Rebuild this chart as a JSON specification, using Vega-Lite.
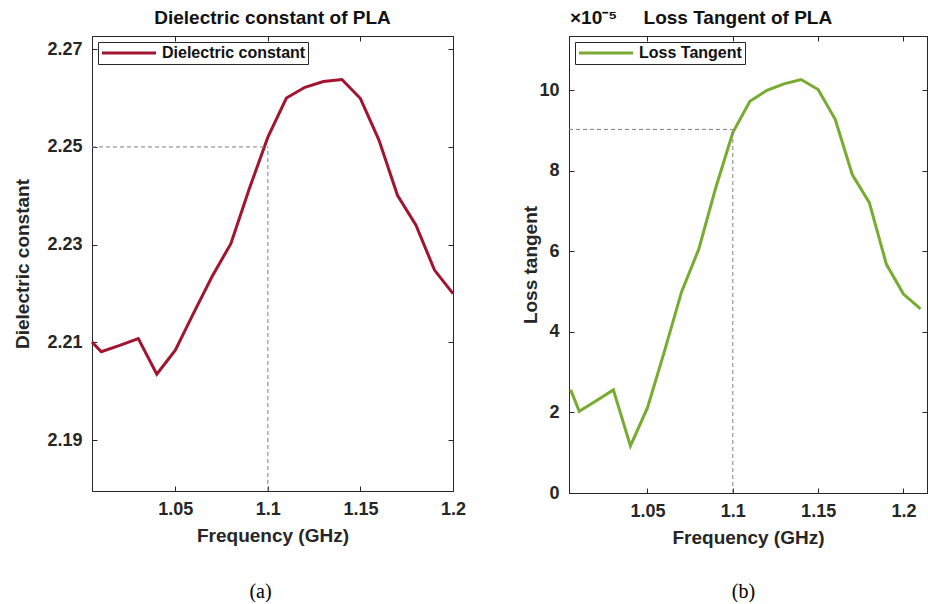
{
  "$schema": "https://vega.github.io/schema/vega-lite/v6.json",
  "padding": {"left": 13, "top": 8, "right": 0, "bottom": 0},
  "bounds": "flush",
  "spacing": 116,
  "background": "white",
  "config": {
    "view": {"stroke": "#262626", "strokeWidth": 1},
    "font": "Liberation Sans",
    "axis": {
      "labelFont": "Liberation Sans", "labelFontWeight": "bold", "labelFontSize": 18, "labelColor": "#262626",
      "titleFont": "Liberation Sans", "titleFontWeight": "bold", "titleFontSize": 19, "titleColor": "#262626",
      "domainColor": "#262626", "tickColor": "#262626", "tickSize": -5, "grid": false, "domainWidth": 1, "tickWidth": 1
    },
    "title": {"font": "Liberation Sans", "fontWeight": "bold", "fontSize": 19, "color": "#111111", "frame": "group", "offset": 8, "baseline": "alphabetic"},
    "legend": {
      "orient": "top-left", "offset": 6, "symbolType": "stroke", "symbolSize": 2916, "symbolStrokeWidth": 3,
      "clipHeight": 17, "padding": 2.5, "labelOffset": 4.5, "labelFont": "Liberation Sans", "labelFontWeight": "bold",
      "labelFontSize": 16, "labelColor": "#111111", "strokeColor": "#262626", "fillColor": "white", "cornerRadius": 0
    }
  },
  "datasets": {
    "dielectric": [
      {"freq": 1.005, "eps": 2.2101, "series": "Dielectric constant"},
      {"freq": 1.01, "eps": 2.2081, "series": "Dielectric constant"},
      {"freq": 1.02, "eps": 2.2094, "series": "Dielectric constant"},
      {"freq": 1.03, "eps": 2.2108, "series": "Dielectric constant"},
      {"freq": 1.04, "eps": 2.2035, "series": "Dielectric constant"},
      {"freq": 1.05, "eps": 2.2084, "series": "Dielectric constant"},
      {"freq": 1.06, "eps": 2.2161, "series": "Dielectric constant"},
      {"freq": 1.07, "eps": 2.2236, "series": "Dielectric constant"},
      {"freq": 1.08, "eps": 2.2302, "series": "Dielectric constant"},
      {"freq": 1.09, "eps": 2.2415, "series": "Dielectric constant"},
      {"freq": 1.1, "eps": 2.2520, "series": "Dielectric constant"},
      {"freq": 1.11, "eps": 2.2600, "series": "Dielectric constant"},
      {"freq": 1.12, "eps": 2.2622, "series": "Dielectric constant"},
      {"freq": 1.13, "eps": 2.2634, "series": "Dielectric constant"},
      {"freq": 1.14, "eps": 2.2638, "series": "Dielectric constant"},
      {"freq": 1.15, "eps": 2.2599, "series": "Dielectric constant"},
      {"freq": 1.16, "eps": 2.2514, "series": "Dielectric constant"},
      {"freq": 1.17, "eps": 2.2401, "series": "Dielectric constant"},
      {"freq": 1.18, "eps": 2.2340, "series": "Dielectric constant"},
      {"freq": 1.19, "eps": 2.2248, "series": "Dielectric constant"},
      {"freq": 1.2, "eps": 2.2200, "series": "Dielectric constant"}
    ],
    "dielectric_ref": [
      {"from_freq": 1.005, "freq": 1.1, "eps": 2.25, "floor": 2.1796}
    ],
    "loss": [
      {"freq": 1.005, "tan": 2.56e-5, "series": "Loss Tangent"},
      {"freq": 1.01, "tan": 2.03e-5, "series": "Loss Tangent"},
      {"freq": 1.02, "tan": 2.29e-5, "series": "Loss Tangent"},
      {"freq": 1.03, "tan": 2.56e-5, "series": "Loss Tangent"},
      {"freq": 1.04, "tan": 1.17e-5, "series": "Loss Tangent"},
      {"freq": 1.05, "tan": 2.12e-5, "series": "Loss Tangent"},
      {"freq": 1.06, "tan": 3.53e-5, "series": "Loss Tangent"},
      {"freq": 1.07, "tan": 5.0e-5, "series": "Loss Tangent"},
      {"freq": 1.08, "tan": 6.05e-5, "series": "Loss Tangent"},
      {"freq": 1.09, "tan": 7.58e-5, "series": "Loss Tangent"},
      {"freq": 1.1, "tan": 8.95e-5, "series": "Loss Tangent"},
      {"freq": 1.11, "tan": 9.73e-5, "series": "Loss Tangent"},
      {"freq": 1.12, "tan": 10.0e-5, "series": "Loss Tangent"},
      {"freq": 1.13, "tan": 10.16e-5, "series": "Loss Tangent"},
      {"freq": 1.14, "tan": 10.27e-5, "series": "Loss Tangent"},
      {"freq": 1.15, "tan": 10.02e-5, "series": "Loss Tangent"},
      {"freq": 1.16, "tan": 9.28e-5, "series": "Loss Tangent"},
      {"freq": 1.17, "tan": 7.91e-5, "series": "Loss Tangent"},
      {"freq": 1.18, "tan": 7.21e-5, "series": "Loss Tangent"},
      {"freq": 1.19, "tan": 5.68e-5, "series": "Loss Tangent"},
      {"freq": 1.2, "tan": 4.94e-5, "series": "Loss Tangent"},
      {"freq": 1.21, "tan": 4.57e-5, "series": "Loss Tangent"}
    ],
    "loss_ref": [
      {"from_freq": 1.004, "freq": 1.1, "tan": 9.03e-5, "floor": 0}
    ]
  },
  "resolve": {"scale": {"color": "independent"}, "legend": {"color": "independent"}},
  "hconcat": [
    {
      "width": 361,
      "height": 455,
      "title": {"text": "Dielectric constant of PLA"},
      "resolve": {"axis": {"x": "independent", "y": "independent"}},
      "layer": [
        {
          "data": {"name": "dielectric"},
          "mark": {"type": "line", "strokeWidth": 3},
          "encoding": {
            "x": {"field": "freq", "type": "quantitative",
              "scale": {"domain": [1.005, 1.2], "nice": false, "zero": false},
              "axis": {"title": "Frequency (GHz)", "values": [1.05, 1.1, 1.15, 1.2], "format": ".3~g", "labelFlush": false, "labelPadding": 14, "titlePadding": 8}},
            "y": {"field": "eps", "type": "quantitative",
              "scale": {"domain": [2.1796, 2.2727], "nice": false, "zero": false},
              "axis": {"title": "Dielectric constant", "values": [2.19, 2.21, 2.23, 2.25, 2.27], "format": ".2f", "labelPadding": 15, "titlePadding": 14}},
            "color": {"field": "series", "type": "nominal", "scale": {"range": ["#A2142F"]}, "legend": {"title": null}}
          }
        },
        {
          "data": {"name": "dielectric_ref"},
          "mark": {"type": "rule", "color": "#808080", "strokeDash": [4, 3], "strokeWidth": 1},
          "encoding": {
            "x": {"field": "from_freq", "type": "quantitative",
              "scale": {"domain": [1.005, 1.2], "nice": false, "zero": false},
              "axis": {"orient": "top", "labels": false, "title": null, "values": [1.05, 1.1, 1.15, 1.2]}},
            "x2": {"field": "freq"},
            "y": {"field": "eps", "type": "quantitative",
              "scale": {"domain": [2.1796, 2.2727], "nice": false, "zero": false},
              "axis": {"orient": "right", "labels": false, "title": null, "values": [2.19, 2.21, 2.23, 2.25, 2.27]}}
          }
        },
        {
          "data": {"name": "dielectric_ref"},
          "mark": {"type": "rule", "color": "#808080", "strokeDash": [4, 3], "strokeWidth": 1},
          "encoding": {
            "x": {"field": "freq", "type": "quantitative",
              "scale": {"domain": [1.005, 1.2], "nice": false, "zero": false},
              "axis": {"orient": "bottom", "labels": false, "ticks": false, "domain": false, "title": "(a)",
                "titleFont": "Liberation Serif", "titleFontWeight": "normal", "titleFontSize": 20, "titleColor": "#000000",
                "titleX": 168, "titleY": 100, "titleBaseline": "middle", "titleAlign": "center"}},
            "y": {"field": "floor", "type": "quantitative",
              "scale": {"domain": [2.1796, 2.2727], "nice": false, "zero": false}, "axis": null},
            "y2": {"field": "eps"}
          }
        }
      ]
    },
    {
      "width": 358,
      "height": 457,
      "title": {"text": "×10⁻⁵\u00a0\u00a0\u00a0\u00a0\u00a0Loss Tangent of PLA", "anchor": "start", "dx": 1},
      "resolve": {"axis": {"x": "independent", "y": "independent"}},
      "layer": [
        {
          "data": {"name": "loss"},
          "mark": {"type": "line", "strokeWidth": 3, "clip": true},
          "encoding": {
            "x": {"field": "freq", "type": "quantitative",
              "scale": {"domain": [1.004, 1.2138], "nice": false, "zero": false},
              "axis": {"title": "Frequency (GHz)", "values": [1.05, 1.1, 1.15, 1.2], "format": ".3~g", "labelFlush": false, "labelPadding": 14, "titlePadding": 8}},
            "y": {"field": "tan", "type": "quantitative",
              "scale": {"domain": [0, 0.0001135], "nice": false, "zero": false},
              "axis": {"title": "Loss tangent", "values": [0, 0.00002, 0.00004, 0.00006, 0.00008, 0.0001], "labelExpr": "format(datum.value * 100000, '.0f')", "labelPadding": 15, "titlePadding": -2}},
            "color": {"field": "series", "type": "nominal", "scale": {"range": ["#77AC30"]}, "legend": {"title": null}}
          }
        },
        {
          "data": {"name": "loss_ref"},
          "mark": {"type": "rule", "color": "#808080", "strokeDash": [4, 3], "strokeWidth": 1},
          "encoding": {
            "x": {"field": "from_freq", "type": "quantitative",
              "scale": {"domain": [1.004, 1.2138], "nice": false, "zero": false},
              "axis": {"orient": "top", "labels": false, "title": null, "values": [1.05, 1.1, 1.15, 1.2]}},
            "x2": {"field": "freq"},
            "y": {"field": "tan", "type": "quantitative",
              "scale": {"domain": [0, 0.0001135], "nice": false, "zero": false},
              "axis": {"orient": "right", "labels": false, "title": null, "values": [0, 0.00002, 0.00004, 0.00006, 0.00008, 0.0001]}}
          }
        },
        {
          "data": {"name": "loss_ref"},
          "mark": {"type": "rule", "color": "#808080", "strokeDash": [4, 3], "strokeWidth": 1},
          "encoding": {
            "x": {"field": "freq", "type": "quantitative",
              "scale": {"domain": [1.004, 1.2138], "nice": false, "zero": false},
              "axis": {"orient": "bottom", "labels": false, "ticks": false, "domain": false, "title": "(b)",
                "titleFont": "Liberation Serif", "titleFontWeight": "normal", "titleFontSize": 20, "titleColor": "#000000",
                "titleX": 174, "titleY": 98, "titleBaseline": "middle", "titleAlign": "center"}},
            "y": {"field": "floor", "type": "quantitative",
              "scale": {"domain": [0, 0.0001135], "nice": false, "zero": false}, "axis": null},
            "y2": {"field": "tan"}
          }
        }
      ]
    }
  ]
}
